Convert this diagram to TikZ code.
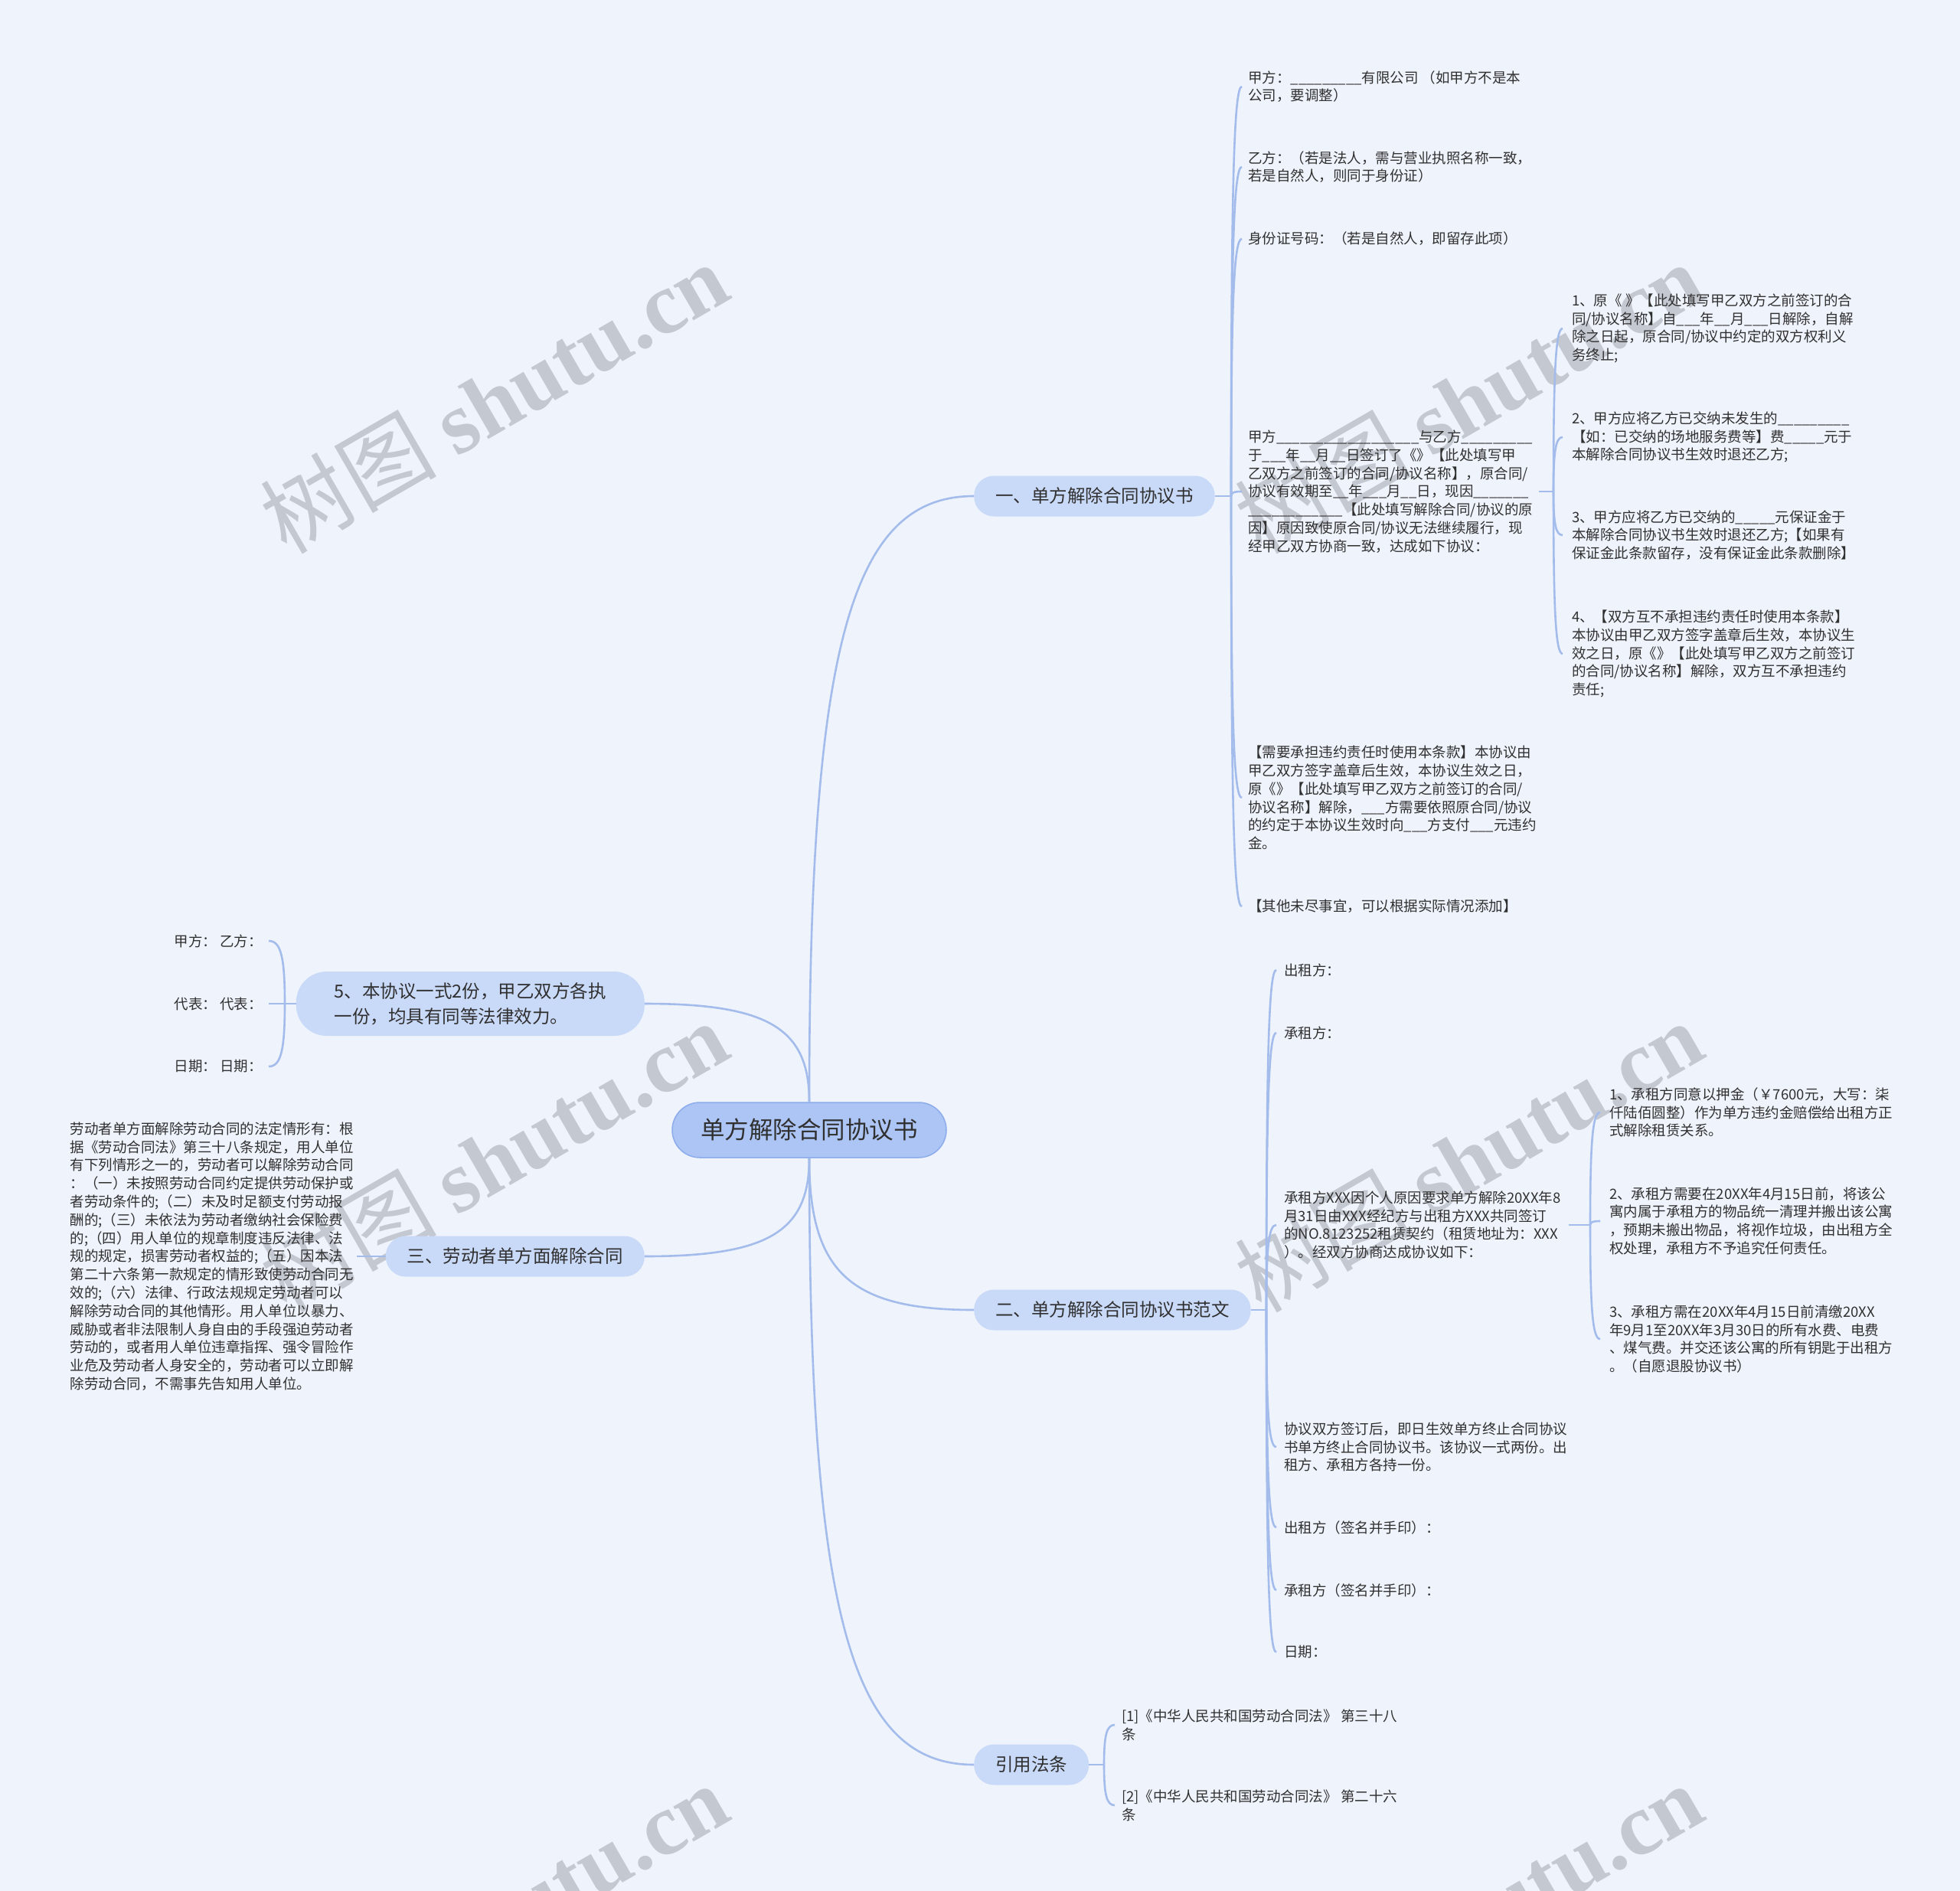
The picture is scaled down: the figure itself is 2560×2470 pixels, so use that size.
\documentclass[tikz,border=0pt]{standalone}
\usepackage{fontspec}
\setmainfont{Noto Sans CJK SC}
\newfontfamily\wmlat{Liberation Serif}
\usetikzlibrary{calc}
\definecolor{bgc}{RGB}{238,243,252}
\definecolor{lnc}{RGB}{163,188,235}
\definecolor{brfill}{RGB}{201,217,248}
\definecolor{rootfill}{RGB}{172,197,244}
\definecolor{rootdraw}{RGB}{140,172,236}
\definecolor{txt}{RGB}{48,48,48}
\definecolor{wm}{RGB}{196,200,209}
\newcommand\cc[2]{\draw[conn] (#1) .. controls ($(#1)!0.75!(#1|-#2)$) and ($(#2)!0.75!(#1|-#2)$) .. (#2);}
\newcommand\uu[1]{\foreach \k in {1,...,#1}{\_}}
\tikzset{
  conn/.style={draw=lnc, line width=2.6pt},
  rootnode/.style={fill=rootfill, draw=rootdraw, line width=1.5pt, rounded corners=36pt, minimum height=72pt, minimum width=358pt, font=\fontsize{31.5}{38}\selectfont, text=txt},
  branch/.style={fill=brfill, rounded corners=26pt, minimum height=53pt, inner xsep=28pt, font=\fontsize{23.5}{30}\selectfont, text=txt},
  bigbranch/.style={fill=brfill, rounded corners=40pt, minimum height=84pt, minimum width=455pt, align=left, font=\fontsize{23.5}{33}\selectfont, text=txt},
  leaf/.style={align=left, inner xsep=8pt, inner ysep=2pt, font=\fontsize{18.5}{23.8}\selectfont, text=txt},
  wmark/.style={text=wm, rotate=30, font=\fontsize{115}{120}\selectfont}
}
\begin{document}
\begin{tikzpicture}[x=1pt,y=-1pt]
\useasboundingbox (0,0) rectangle (2560,2470);
\fill[bgc] (0,0) rectangle (2560,2470);
% watermarks
\foreach \wx/\wy [count=\i] in {645/519,645/1510,645/2506,1918/519,1918/1510,1918/2506}{
  \node[wmark] (wm\i) at (\wx,\wy) {树图 {\wmlat\bfseries shutu.cn}};
}
% root and branches
\node[rootnode] (root) at (1057,1476) {单方解除合同协议书};
\node[branch, anchor=west] (b1) at (1272,648) {一、单方解除合同协议书};
\node[branch, anchor=west] (b2) at (1272,1711) {二、单方解除合同协议书范文};
\node[branch, anchor=west] (bf) at (1272,2305) {引用法条};
\node[branch, anchor=east] (b3) at (842,1641) {三、劳动者单方面解除合同};
\node[bigbranch, anchor=east] (b5) at (842,1311) {5、本协议一式2份，甲乙双方各执\\一份，均具有同等法律效力。};
% branch 1 children
\node[leaf, anchor=west] (c1) at (1622,113) {甲方：\_\_\_\_\_\_\_\_\_有限公司 （如甲方不是本\\公司，要调整）};
\node[leaf, anchor=west] (c2) at (1622,218) {乙方：（若是法人，需与营业执照名称一致，\\若是自然人，则同于身份证）};
\node[leaf, anchor=west] (c3) at (1622,312) {身份证号码：（若是自然人，即留存此项）};
\node[leaf, anchor=west] (c4) at (1622,642) {甲方\_\_\_\_\_\_\_\_\_\_\_\_\_\_\_\_\_\_与乙方\_\_\_\_\_\_\_\_\_\\于\_\_\_年\_\_月\_\_日签订了《》【此处填写甲\\乙双方之前签订的合同/协议名称】，原合同/\\协议有效期至\_\_年\_\_\_月\_\_日，现因\_\_\_\_\_\_\_\\\_\_\_\_\_\_\_\_\_\_\_\_【此处填写解除合同/协议的原\\因】原因致使原合同/协议无法继续履行，现\\经甲乙双方协商一致，达成如下协议：};
\node[leaf, anchor=west] (c5) at (1622,1042) {【需要承担违约责任时使用本条款】本协议由\\甲乙双方签字盖章后生效，本协议生效之日，\\原《》【此处填写甲乙双方之前签订的合同/\\协议名称】解除，\_\_\_方需要依照原合同/协议\\的约定于本协议生效时向\_\_\_方支付\_\_\_元违约\\金。};
\node[leaf, anchor=west] (c6) at (1622,1184) {【其他未尽事宜，可以根据实际情况添加】};
% c4 children
\node[leaf, anchor=west, inner xsep=12pt] (i1) at (2041,429) {1、原《 》【此处填写甲乙双方之前签订的合\\同/协议名称】自\_\_\_年\_\_月\_\_\_日解除，自解\\除之日起，原合同/协议中约定的双方权利义\\务终止;};
\node[leaf, anchor=west, inner xsep=12pt] (i2) at (2041,571) {2、甲方应将乙方已交纳未发生的\_\_\_\_\_\_\_\_\_\\【如：已交纳的场地服务费等】费\_\_\_\_\_元于\\本解除合同协议书生效时退还乙方;};
\node[leaf, anchor=west, inner xsep=12pt] (i3) at (2041,699) {3、甲方应将乙方已交纳的\_\_\_\_\_元保证金于\\本解除合同协议书生效时退还乙方;【如果有\\保证金此条款留存，没有保证金此条款删除】};
\node[leaf, anchor=west, inner xsep=12pt] (i4) at (2041,854) {4、【双方互不承担违约责任时使用本条款】\\本协议由甲乙双方签字盖章后生效，本协议生\\效之日，原《》【此处填写甲乙双方之前签订\\的合同/协议名称】解除，双方互不承担违约\\责任;};
% branch 5 children
\node[leaf, anchor=east] (g1) at (351,1229) {甲方： 乙方：};
\node[leaf, anchor=east] (g2) at (351,1311) {代表： 代表：};
\node[leaf, anchor=east] (g3) at (351,1393) {日期： 日期：};
% branch 3 child
\node[leaf, anchor=east, inner xsep=4pt] (p3) at (466,1641) {劳动者单方面解除劳动合同的法定情形有：根\\据《劳动合同法》第三十八条规定，用人单位\\有下列情形之一的，劳动者可以解除劳动合同\\：（一）未按照劳动合同约定提供劳动保护或\\者劳动条件的;（二）未及时足额支付劳动报\\酬的;（三）未依法为劳动者缴纳社会保险费\\的;（四）用人单位的规章制度违反法律、法\\规的规定，损害劳动者权益的;（五）因本法\\第二十六条第一款规定的情形致使劳动合同无\\效的;（六）法律、行政法规规定劳动者可以\\解除劳动合同的其他情形。用人单位以暴力、\\威胁或者非法限制人身自由的手段强迫劳动者\\劳动的，或者用人单位违章指挥、强令冒险作\\业危及劳动者人身安全的，劳动者可以立即解\\除劳动合同，不需事先告知用人单位。};
% branch 2 children
\node[leaf, anchor=west, inner xsep=10pt] (d1) at (1667,1267) {出租方：};
\node[leaf, anchor=west, inner xsep=10pt] (d2) at (1667,1349) {承租方：};
\node[leaf, anchor=west, inner xsep=10pt] (d3) at (1667,1600) {承租方XXX因个人原因要求单方解除20XX年8\\月31日由XXX经纪方与出租方XXX共同签订\\的NO.8123252租赁契约（租赁地址为：XXX\\）。经双方协商达成协议如下：};
\node[leaf, anchor=west, inner xsep=10pt] (d4) at (1667,1890) {协议双方签订后，即日生效单方终止合同协议\\书单方终止合同协议书。该协议一式两份。出\\租方、承租方各持一份。};
\node[leaf, anchor=west, inner xsep=10pt] (d5) at (1667,1995) {出租方（签名并手印）：};
\node[leaf, anchor=west, inner xsep=10pt] (d6) at (1667,2077) {承租方（签名并手印）：};
\node[leaf, anchor=west, inner xsep=10pt] (d7) at (1667,2158) {日期：};
% d3 children
\node[leaf, anchor=west, inner xsep=12pt] (e1) at (2090,1453) {1、承租方同意以押金（￥7600元，大写：柒\\仟陆佰圆整）作为单方违约金赔偿给出租方正\\式解除租赁关系。};
\node[leaf, anchor=west, inner xsep=12pt] (e2) at (2090,1595) {2、承租方需要在20XX年4月15日前，将该公\\寓内属于承租方的物品统一清理并搬出该公寓\\，预期未搬出物品，将视作垃圾，由出租方全\\权处理，承租方不予追究任何责任。};
\node[leaf, anchor=west, inner xsep=12pt] (e3) at (2090,1749) {3、承租方需在20XX年4月15日前清缴20XX\\年9月1至20XX年3月30日的所有水费、电费\\、煤气费。并交还该公寓的所有钥匙于出租方\\。（自愿退股协议书）};
% citations
\node[leaf, anchor=west, inner xsep=9pt] (f1) at (1456,2253) {[1]《中华人民共和国劳动合同法》 第三十八\\条};
\node[leaf, anchor=west, inner xsep=9pt] (f2) at (1456,2358) {[2]《中华人民共和国劳动合同法》 第二十六\\条};
% root connectors
\cc{root.north}{b1.west}
\cc{root.north}{b5.east}
\cc{root.south}{b3.east}
\cc{root.south}{b2.west}
\cc{root.south}{bf.west}
% branch 1
\coordinate (s1) at (1608,648);
\draw[conn] (b1.east) -- (s1);
\foreach \n in {c1,c2,c3,c4,c5,c6}{\cc{s1}{\n.west}}
% c4
\coordinate (s4) at (2029,642);
\draw[conn] (c4.east) -- (s4);
\foreach \n in {i1,i2,i3,i4}{\cc{s4}{\n.west}}
% b5
\coordinate (s5) at (372,1311);
\draw[conn] (b5.west) -- (s5);
\foreach \n in {g1,g2,g3}{\cc{s5}{\n.east}}
% b3
\draw[conn] (b3.west) -- (p3.east);
% b2
\coordinate (s2) at (1654,1711);
\draw[conn] (b2.east) -- (s2);
\foreach \n in {d1,d2,d3,d4,d5,d6,d7}{\cc{s2}{\n.west}}
% d3
\coordinate (s3) at (2077,1600);
\draw[conn] (d3.east) -- (s3);
\foreach \n in {e1,e2,e3}{\cc{s3}{\n.west}}
% citations
\coordinate (sf) at (1442,2305);
\draw[conn] (bf.east) -- (sf);
\foreach \n in {f1,f2}{\cc{sf}{\n.west}}
\end{tikzpicture}
\end{document}
